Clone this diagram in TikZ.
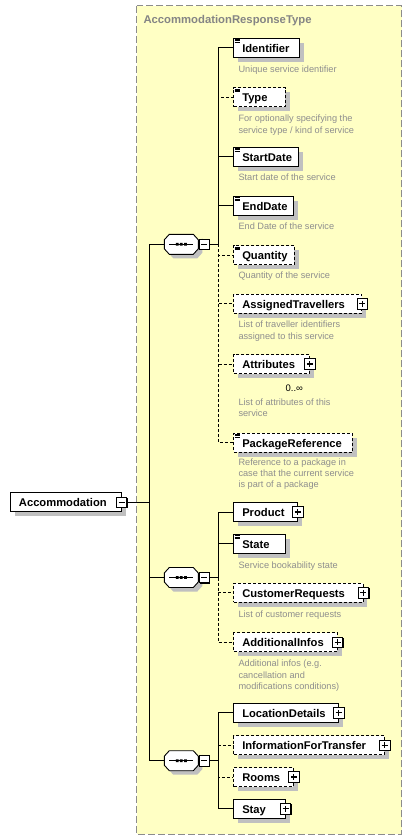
\documentclass[tikz,border=0pt]{standalone}
\usepackage{fontspec}
\setmainfont{Liberation Sans}
\usetikzlibrary{shadows}
\definecolor{bgyel}{HTML}{FFFFC4}
\definecolor{boxgray}{HTML}{8C8C8C}
\definecolor{titlegray}{HTML}{858585}
\definecolor{descgray}{HTML}{8E8E8E}
\definecolor{shadegray}{HTML}{C0C0C0}
\newcommand\seqsym[1]{%
  \begin{scope}[shift={(#1.center)}]
    \fill[shadegray] (-13,-6) -- (-8,-0.5) -- (16,-0.5) -- (21,-6) -- (21,8.5) -- (16,14) -- (-8,14) -- (-13,8.5) -- cycle;
    \draw[line width=0.9pt, fill=white] (-17,-4.5) -- (-12,-10) -- (12,-10) -- (17,-4.5) -- (17,4.5) -- (12,10) -- (-12,10) -- (-17,4.5) -- cycle;
    \draw[line width=1pt] (-12,0) -- (12,0);
    \fill (-5.5,-1.4) rectangle (-2.7,1.4) (-1.4,-1.4) rectangle (1.4,1.4) (2.7,-1.4) rectangle (5.5,1.4);
  \end{scope}}
\newcommand\docicon[1]{%
  \draw[line width=0.5pt] ([xshift=1.4pt,yshift=-1.5pt]#1.north west) -- ++(5.6,0)
    ([xshift=1.4pt,yshift=-2.9pt]#1.north west) -- ++(5.6,0)
    ([xshift=1.4pt,yshift=-4.3pt]#1.north west) -- ++(5.6,0);}
\tikzset{
  elem/.style={draw, fill=white, line width=0.9pt, anchor=west, minimum height=19pt,
    inner xsep=8.5pt, inner ysep=0pt, text height=9.3pt, text depth=0.7pt, align=left,
    font=\fontsize{11.2}{13}\selectfont\bfseries,
    general shadow={fill=shadegray, shadow xshift=4.5pt, shadow yshift=-4.5pt}},
  optelem/.style={elem, dash pattern=on 3pt off 2pt},
  pm/.style={draw, fill=white, line width=0.9pt, minimum size=10.5pt, inner sep=0pt,
    general shadow={fill=black, shadow xshift=0.9pt, shadow yshift=-0.9pt}},
  plusbox/.style={pm, path picture={\draw[line width=1.1pt]
    ([xshift=2.2pt]path picture bounding box.west) -- ([xshift=-2.2pt]path picture bounding box.east)
    ([yshift=-2.2pt]path picture bounding box.north) -- ([yshift=2.2pt]path picture bounding box.south);}},
  minusbox/.style={pm, path picture={\draw[line width=1.1pt]
    ([xshift=2.2pt]path picture bounding box.west) -- ([xshift=-2.2pt]path picture bounding box.east);}},
  seqn/.style={minimum width=34pt, minimum height=20pt, inner sep=0pt},
  desc/.style={anchor=base west, inner sep=0pt, text=descgray, font=\fontsize{9.2}{11.2}\selectfont},
  conn/.style={line width=1pt, draw=black},
  optconn/.style={conn, dash pattern=on 3pt off 2pt}
}
\begin{document}
\hyphenpenalty=10000
\exhyphenpenalty=10000
\hbadness=10000
\hfuzz=50pt
\begin{tikzpicture}[x=1pt, y=-1pt]
\useasboundingbox (0,0) rectangle (412,840);
\fill[white] (0,0) rectangle (412,840);
% complex type frame
\draw[boxgray, line width=1pt, dash pattern=on 7pt off 3pt, fill=bgyel] (136.7,5.7) rectangle (401.7,834);
\node[anchor=base west, inner sep=0pt, text=titlegray, font=\fontsize{11.3}{13}\selectfont\bfseries] (title) at (143.3,23.3) {AccommodationResponseType};

% root element
\node[elem, text width=93.7pt] (accom) at (10,502.2) {Accommodation};
\node[minusbox] (accomm) at (accom.east) {};

% sequence 1
\node[seqn] (s1) at (181.3,244.3) {};
\seqsym{s1}
\node[minusbox] (s1m) at (204.2,244.3) {};
\node[elem, text width=49pt] (ident) at (233.3,47.8) {Identifier};
\docicon{ident}
\node[desc] (dident) at (238.3,72.8) {Unique service identifier};
\node[optelem, text width=34.7pt] (type) at (233.3,97.3) {Type};
\docicon{type}
\node[desc] (dtype) at (238.3,121.8) {\parbox[t]{150pt}{\raggedright For optionally specifying the\\service type / kind of service}};
\node[elem, text width=48pt] (start) at (233.3,156.7) {StartDate};
\docicon{start}
\node[desc] (dstart) at (238.3,180.8) {Start date of the service};
\node[elem, text width=42.4pt] (end) at (233.3,205.8) {EndDate};
\docicon{end}
\node[desc] (dend) at (238.3,229.8) {End Date of the service};
\node[optelem, text width=43.7pt] (qty) at (233.3,255.2) {Quantity};
\docicon{qty}
\node[desc] (dqty) at (238.3,278.8) {Quantity of the service};
\node[optelem, text width=111pt] (assigned) at (233.3,303.8) {AssignedTravellers};
\node[plusbox] (assignedp) at (assigned.east) {};
\node[desc] (dassigned) at (238.3,327.8) {\parbox[t]{150pt}{\raggedright List of traveller identifiers\\assigned to this service}};
\node[optelem, text width=58.7pt] (attrs) at (233.3,364) {Attributes};
\node[plusbox] (attrsp) at (attrs.east) {};
\node[anchor=base, inner sep=0pt, font=\fontsize{9.5}{11}\selectfont] (mult) at (294.3,391) {0..∞};
\node[desc] (dattrs) at (238.3,405.5) {\parbox[t]{150pt}{\raggedright List of attributes of this\\service}};
\node[optelem, text width=101.4pt] (pkgref) at (233.3,442.7) {PackageReference};
\docicon{pkgref}
\node[desc] (dpkgref) at (238.3,465.5) {\parbox[t]{150pt}{\raggedright Reference to a package in\\case that the current service\\is part of a package}};

% sequence 2
\node[seqn] (s2) at (181.3,577.5) {};
\seqsym{s2}
\node[minusbox] (s2m) at (204.2,577.5) {};
\node[elem, text width=46.5pt] (product) at (233.3,512) {Product};
\node[plusbox] (productp) at (product.east) {};
\node[elem, text width=34.7pt] (state) at (233.3,543.8) {State};
\docicon{state}
\node[desc] (dstate) at (238.3,568.8) {Service bookability state};
\node[optelem, text width=112.2pt] (custreq) at (233.3,592.8) {CustomerRequests};
\node[plusbox] (custreqp) at (custreq.east) {};
\node[desc] (dcustreq) at (238.3,617) {List of customer requests};
\node[optelem, text width=86.4pt] (addinfo) at (233.3,642.2) {AdditionalInfos};
\node[plusbox] (addinfop) at (addinfo.east) {};
\node[desc] (daddinfo) at (238.3,666.8) {\parbox[t]{150pt}{\raggedright Additional infos (e.g.\\cancellation and\\modifications conditions)}};

% sequence 3
\node[seqn] (s3) at (181.3,760.7) {};
\seqsym{s3}
\node[minusbox] (s3m) at (204.2,760.7) {};
\node[elem, text width=87.5pt] (locdet) at (233.3,712.8) {LocationDetails};
\node[plusbox] (locdetp) at (locdet.east) {};
\node[optelem, text width=133.5pt] (info) at (233.3,745.2) {InformationForTransfer};
\node[plusbox] (infop) at (info.east) {};
\node[optelem, text width=42.7pt] (rooms) at (233.3,777) {Rooms};
\node[plusbox] (roomsp) at (rooms.east) {};
\node[elem, text width=34.4pt] (stay) at (233.3,808.8) {Stay};
\node[plusbox] (stayp) at (stay.east) {};

% junctions
\coordinate (mj) at (149.3,502.2);
\coordinate (j1) at (218.3,244.3);
\coordinate (j2) at (218.3,577.5);
\coordinate (j3) at (218.3,760.7);

% optional connectors first
\draw[optconn] (j1) |- (type.west);
\draw[optconn] (j1) |- (qty.west);
\draw[optconn] (j1) |- (assigned.west);
\draw[optconn] (j1) |- (attrs.west);
\draw[optconn] (j1) |- (pkgref.west);
\draw[optconn] (j2) |- (custreq.west);
\draw[optconn] (j2) |- (addinfo.west);
\draw[optconn] (j3) |- (info.west);
\draw[optconn] (j3) |- (rooms.west);
% mandatory connectors
\draw[conn] (accomm.east) -- (mj);
\draw[conn] (mj) |- (s1.west);
\draw[conn] (mj) |- (s2.west);
\draw[conn] (mj) |- (s3.west);
\draw[conn] (s1m.east) -- (j1);
\draw[conn] (s2m.east) -- (j2);
\draw[conn] (s3m.east) -- (j3);
\draw[conn] (j1) |- (ident.west);
\draw[conn] (j1) |- (start.west);
\draw[conn] (j1) |- (end.west);
\draw[conn] (j2) |- (product.west);
\draw[conn] (j2) |- (state.west);
\draw[conn] (j3) |- (locdet.west);
\draw[conn] (j3) |- (stay.west);
\end{tikzpicture}
\end{document}
